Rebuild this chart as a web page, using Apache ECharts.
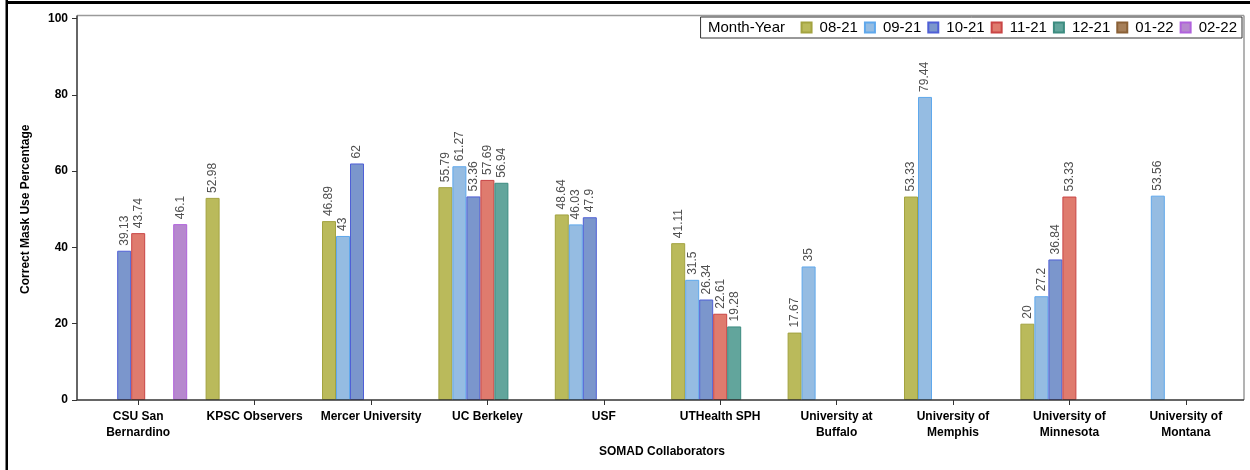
<!DOCTYPE html>
<html>
<head>
<meta charset="utf-8">
<script src="https://cdn.jsdelivr.net/npm/echarts@6/dist/echarts.min.js"></script>
<style>
html,body{margin:0;padding:0;background:#fff;}
#c{width:1250px;height:470px;}
</style>
</head>
<body>
<div id="c"></div>
<script>
// ---- data ----
const categories = ["CSU San\nBernardino", "KPSC Observers", "Mercer University", "UC Berkeley", "USF",
  "UTHealth SPH", "University at\nBuffalo", "University of\nMemphis", "University of\nMinnesota", "University of\nMontana"];
const monthYears = ["08-21", "09-21", "10-21", "11-21", "12-21", "01-22", "02-22"];
const s0821 = [null, 52.98, 46.89, 55.79, 48.64, 41.11, 17.67, 53.33, 20, null];
const s0921 = [null, null, 43, 61.27, 46.03, 31.5, 35, 79.44, 27.2, 53.56];
const s1021 = [39.13, null, 62, 53.36, 47.9, 26.34, null, null, 36.84, null];
const s1121 = [43.74, null, null, 57.69, null, 22.61, null, null, 53.33, null];
const s1221 = [null, null, null, 56.94, null, 19.28, null, null, null, null];
const s0122 = [null, null, null, null, null, null, null, null, null, null];
const s0222 = [46.1, null, null, null, null, null, null, null, null, null];
const yTicks = [0, 20, 40, 60, 80, 100];

const seriesValues = [s0821, s0921, s1021, s1121, s1221, s0122, s0222];
const fills = ["#BABA5B", "#95BCE2", "#7B96CC", "#DF7B6E", "#62A59C", "#A67F59", "#B688CE"];
const borders = ["#A3A340", "#5FA8EC", "#4F5FD6", "#C94545", "#3C8C80", "#8A6036", "#B062DC"];
const FONT = 'Arial, "Liberation Sans", sans-serif';

const chart = echarts.init(document.getElementById('c'), null, {renderer: 'canvas'});

const series = monthYears.map((m, i) => ({
  name: m,
  type: 'bar',
  data: seriesValues[i],
  barWidth: 14,
  barGap: '0%',
  itemStyle: {color: fills[i], borderColor: borders[i], borderWidth: 1},
  label: {
    show: true, position: 'top', rotate: 90, align: 'left', verticalAlign: 'middle',
    distance: 5, color: '#505050', fontSize: 12, fontFamily: FONT
  },
  emphasis: {disabled: true},
  animation: false
}));

const L = 77, R = 1244, T = 15.5, B = 400;

chart.setOption({
  animation: false,
  textStyle: {fontFamily: FONT},
  grid: {left: 80, right: 6, top: 18.5, bottom: 70, containLabel: false},
  legend: {
    data: monthYears,
    right: 8, top: 17,
    orient: 'horizontal',
    icon: 'rect',
    itemWidth: 10, itemHeight: 10, itemGap: 6,
    padding: [3, 5, 3, 100],
    borderColor: '#333', borderWidth: 1,
    textStyle: {fontSize: 15, color: '#000', fontFamily: FONT, padding: [0, 0, 0, 3]},
    selectedMode: false
  },
  xAxis: {
    type: 'category',
    data: categories,
    name: 'SOMAD Collaborators',
    nameLocation: 'middle',
    nameGap: 46,
    nameTextStyle: {fontSize: 12, fontWeight: 'bold', color: '#000', fontFamily: FONT},
    axisLine: {show: false},
    axisTick: {show: true, alignWithLabel: true, length: 5, lineStyle: {color: '#333'}},
    axisLabel: {fontSize: 12, fontWeight: 'bold', color: '#000', margin: 9, lineHeight: 16, interval: 0, fontFamily: FONT},
    splitLine: {show: false}
  },
  yAxis: {
    type: 'value',
    min: yTicks[0], max: yTicks[yTicks.length - 1], interval: 20,
    offset: 3,
    name: 'Correct Mask Use Percentage',
    nameLocation: 'middle',
    nameGap: 45,
    nameTextStyle: {fontSize: 12, fontWeight: 'bold', color: '#000', fontFamily: FONT},
    axisLine: {show: false},
    axisTick: {show: true, length: 5, lineStyle: {color: '#333'}},
    axisLabel: {fontSize: 12, fontWeight: 'bold', color: '#000', margin: 9, fontFamily: FONT},
    splitLine: {show: false}
  },
  graphic: [
    // outer frame (top and left)
    {type: 'rect', shape: {x: 6, y: 1, width: 1244, height: 3}, style: {fill: '#000'}, silent: true},
    {type: 'rect', shape: {x: 5.5, y: 0, width: 2.5, height: 470}, style: {fill: '#000'}, silent: true},
    // plot frame
    {type: 'line', shape: {x1: L, y1: T, x2: R, y2: T}, style: {stroke: '#9a9a9a', lineWidth: 1.5}, silent: true},
    {type: 'line', shape: {x1: R, y1: T, x2: R, y2: B}, style: {stroke: '#9a9a9a', lineWidth: 1.5}, silent: true},
    {type: 'line', shape: {x1: L, y1: T, x2: L, y2: B}, style: {stroke: '#333', lineWidth: 1.5}, silent: true, z: 10},
    {type: 'line', shape: {x1: L, y1: B, x2: R, y2: B}, style: {stroke: '#333', lineWidth: 1.5}, silent: true, z: 10},
    // legend title
    {type: 'text', left: 708, top: 20, style: {text: 'Month-Year', fontSize: 15, fill: '#000', fontFamily: FONT}, silent: true, z: 100}
  ],
  series: series
});
</script>
</body>
</html>
